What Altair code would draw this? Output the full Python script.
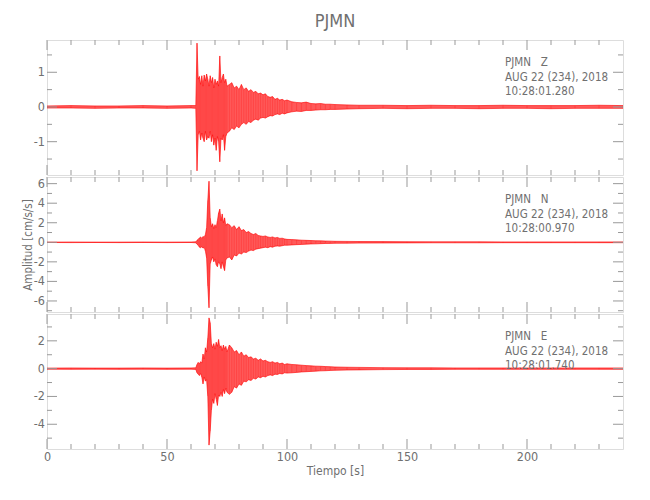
import altair as alt
import pandas as pd

# ---------------- data (envelope of each trace) ----------------
T = [0, 10, 20, 30, 40, 50, 60, 62,
     62.5, 63, 63.5, 64, 64.5, 65, 65.5, 66, 66.5, 67, 67.5, 68, 68.5, 69, 69.5,
     70, 70.5, 71, 71.5, 72, 72.5, 73, 73.5, 74, 74.5, 75,
     76, 77, 78, 79, 80, 81, 82, 83, 84, 85, 86, 87, 88, 89, 90, 91, 92, 93, 94,
     95, 96, 97, 98, 99, 100,
     102, 104, 106, 108, 110, 112, 114, 116, 118, 120,
     125, 130, 140, 150, 160, 170, 180, 190, 200, 210, 220, 230, 240]

Z_HI = [0.03, 0.04, 0.03, 0.03, 0.04, 0.03, 0.04, 0.04,
        1.84, 0.8, 0.88, 0.65, 0.9, 0.6, 0.92, 0.75, 0.95, 0.8, 0.6, 0.9, 0.7, 0.85, 0.55,
        0.8, 0.65, 0.75, 0.6, 1.47, 0.7, 0.85, 0.95, 0.7, 0.8, 0.6,
        0.65, 0.7, 0.55, 0.6, 0.5, 0.65, 0.5, 0.55, 0.45, 0.5, 0.42, 0.45, 0.38, 0.4, 0.35,
        0.38, 0.3, 0.28, 0.3, 0.22, 0.25, 0.2, 0.22, 0.18, 0.2,
        0.15, 0.13, 0.12, 0.14, 0.1, 0.09, 0.1, 0.08, 0.08, 0.07,
        0.06, 0.05, 0.05, 0.04, 0.05, 0.04, 0.04, 0.05, 0.04, 0.04, 0.04, 0.05, 0.04]
Z_LO = [-0.03, -0.03, -0.04, -0.03, -0.03, -0.04, -0.03, -0.04,
        -1.84, -0.8, -0.7, -0.95, -0.75, -0.9, -1.0, -0.7, -0.95, -0.85, -0.9, -0.7, -1.0, -0.8, -1.1,
        -0.9, -1.25, -0.85, -1.0, -1.58, -0.9, -0.95, -0.8, -1.25, -0.85, -0.75,
        -0.7, -0.6, -0.65, -0.55, -0.6, -0.5, -0.45, -0.5, -0.42, -0.45, -0.38, -0.35, -0.38, -0.32, -0.3,
        -0.32, -0.28, -0.25, -0.26, -0.22, -0.2, -0.22, -0.18, -0.2, -0.17,
        -0.14, -0.12, -0.13, -0.1, -0.1, -0.09, -0.08, -0.08, -0.07, -0.07,
        -0.06, -0.05, -0.04, -0.05, -0.04, -0.04, -0.05, -0.04, -0.04, -0.05, -0.04, -0.04, -0.04]

N_HI = [0.02, 0.03, 0.02, 0.02, 0.03, 0.02, 0.03, 0.05,
        0.2, 0.3, 0.45, 0.55, 0.4, 0.6, 0.5, 0.8, 1.5, 4.3, 6.25, 2.5, 1.6, 1.9, 1.4,
        1.8, 1.5, 2.2, 3.0, 3.4, 2.2, 2.9, 2.0, 2.5, 1.7, 1.9,
        1.8, 1.5, 1.7, 1.3, 1.6, 1.2, 1.3, 1.0, 1.1, 0.9, 0.8, 0.9, 0.7, 0.65, 0.6,
        0.65, 0.55, 0.5, 0.55, 0.45, 0.5, 0.4, 0.42, 0.35, 0.3,
        0.28, 0.25, 0.22, 0.2, 0.18, 0.16, 0.15, 0.13, 0.12, 0.1,
        0.09, 0.08, 0.07, 0.06, 0.05, 0.05, 0.05, 0.04, 0.04, 0.04, 0.04, 0.04, 0.04]
N_LO = [-0.02, -0.03, -0.02, -0.03, -0.02, -0.03, -0.02, -0.05,
        -0.2, -0.3, -0.5, -0.55, -0.45, -0.6, -0.5, -0.9, -1.6, -4.5, -6.7, -2.2, -1.8, -1.5, -2.0,
        -1.7, -2.3, -2.5, -2.0, -2.2, -2.7, -2.0, -2.5, -2.9, -1.8, -1.6,
        -1.5, -1.8, -1.3, -1.4, -1.1, -1.2, -1.0, -1.05, -0.9, -0.8, -0.85, -0.7, -0.65, -0.6, -0.55,
        -0.5, -0.55, -0.45, -0.5, -0.4, -0.38, -0.4, -0.35, -0.3, -0.3,
        -0.27, -0.24, -0.22, -0.19, -0.17, -0.16, -0.14, -0.12, -0.11, -0.1,
        -0.09, -0.08, -0.07, -0.06, -0.05, -0.05, -0.05, -0.04, -0.04, -0.04, -0.04, -0.04, -0.04]

E_HI = [0.04, 0.05, 0.04, 0.04, 0.05, 0.04, 0.05, 0.06,
        0.3, 0.45, 0.35, 0.5, 0.4, 1.05, 0.7, 1.5, 1.2, 2.2, 3.65, 3.3, 1.8, 1.5, 1.8,
        1.4, 1.9, 1.6, 2.1, 1.5, 1.65, 1.3, 1.7, 1.4, 1.6, 1.2,
        1.7, 1.5, 1.2, 1.3, 1.0, 1.2, 0.9, 1.0, 0.8, 0.85, 0.7, 0.75, 0.6, 0.7, 0.55,
        0.6, 0.5, 0.45, 0.5, 0.4, 0.45, 0.35, 0.4, 0.3, 0.35,
        0.3, 0.28, 0.25, 0.22, 0.2, 0.18, 0.17, 0.15, 0.14, 0.12,
        0.1, 0.09, 0.07, 0.06, 0.06, 0.05, 0.05, 0.05, 0.05, 0.05, 0.05, 0.05, 0.05]
E_LO = [-0.04, -0.05, -0.04, -0.05, -0.04, -0.05, -0.04, -0.06,
        -0.3, -0.4, -0.5, -0.35, -0.6, -1.1, -0.6, -0.9, -0.8, -2.0, -5.5, -4.5, -3.0, -2.2, -2.5,
        -1.8, -2.2, -2.65, -1.9, -2.0, -1.7, -2.0, -1.5, -1.8, -1.4, -1.7,
        -1.85, -1.7, -1.3, -1.4, -1.1, -1.2, -0.9, -0.95, -0.8, -0.85, -0.7, -0.75, -0.6, -0.65, -0.55,
        -0.6, -0.5, -0.45, -0.5, -0.4, -0.42, -0.35, -0.38, -0.3, -0.32,
        -0.3, -0.27, -0.24, -0.22, -0.2, -0.18, -0.16, -0.15, -0.13, -0.12,
        -0.1, -0.09, -0.07, -0.06, -0.06, -0.05, -0.05, -0.05, -0.05, -0.05, -0.05, -0.05, -0.05]

X_MAJOR = [0, 50, 100, 150, 200]
X_MINOR = [10, 20, 30, 40, 60, 70, 80, 90, 110, 120, 130, 140, 160, 170, 180, 190, 210, 220, 230]

Z_DOMAIN = [-1.96, 1.93]
Z_MAJOR = [-1, 0, 1]
Z_MINOR = [-1.5, -0.5, 0.5, 1.5]
N_DOMAIN = [-7.13, 6.68]
N_MAJOR = [-6, -4, -2, 0, 2, 4, 6]
N_MINOR = [-7, -5, -3, -1, 1, 3, 5]
E_DOMAIN = [-5.78, 3.93]
E_MAJOR = [-4, -2, 0, 2]
E_MINOR = [-5, -3, -1, 1, 3]

TITLE = "PJMN"
X_TITLE = "Tiempo [s]"
Y_TITLE = "Amplitud [cm/s/s]"
ANNOT_Z = "PJMN\u00a0\u00a0\u00a0Z\nAUG 22 (234), 2018\n10:28:01.280"
ANNOT_N = "PJMN\u00a0\u00a0\u00a0N\nAUG 22 (234), 2018\n10:28:00.970"
ANNOT_E = "PJMN\u00a0\u00a0\u00a0E\nAUG 22 (234), 2018\n10:28:01.740"

for arr in (Z_HI, Z_LO, N_HI, N_LO, E_HI, E_LO):
    assert len(arr) == len(T), len(arr)

# ---------------- style ----------------
FONT = "DejaVu Sans Condensed, Liberation Sans Narrow, sans-serif"
TXT = "#707070"
FRAME = "#999999"
RED = "#ff0000"
W, H = 576, 135
LABEL_EXPR = "datum.value < 0 ? '-' + abs(datum.value) : '' + datum.value"

XSCALE = alt.Scale(domain=[0, 240], nice=False, zero=False)


def panel(hi, lo, domain, ymaj, ymin, annot, bottom=False, ytitle=None):
    ysc = alt.Scale(domain=domain, nice=False, zero=False)
    df = pd.DataFrame({"t": T, "hi": hi, "lo": lo})
    if bottom:
        xaxis = alt.Axis(values=X_MAJOR, ticks=False, domain=False, grid=False,
                         labelPadding=1, labelFontSize=12.5, labelFont=FONT, labelColor=TXT,
                         labelFlush=False, labelOverlap=False, labelExpr=LABEL_EXPR,
                         title=X_TITLE, titleFontSize=12, titleFont=FONT, titleColor=TXT,
                         titleFontWeight="normal", titlePadding=3)
    else:
        xaxis = alt.Axis(values=X_MAJOR, ticks=False, domain=False, grid=False,
                         labels=False, title=None)
    yaxis = alt.Axis(values=ymaj, ticks=False, domain=False, grid=False, labels=False,
                     title=ytitle if ytitle else None, titleFontSize=11.5, titleFont=FONT,
                     titleColor=TXT, titleFontWeight="normal", titlePadding=14)
    base = alt.Chart(df)
    area = base.mark_area(color=RED, opacity=0.65, clip=True).encode(
        x=alt.X("t:Q", scale=XSCALE, axis=xaxis),
        y=alt.Y("hi:Q", scale=ysc, axis=yaxis),
        y2="lo:Q")
    rules = base.mark_rule(color=RED, strokeWidth=0.8, opacity=0.3, clip=True).encode(
        x=alt.X("t:Q"), y=alt.Y("hi:Q"), y2="lo:Q")
    edge_hi = base.mark_line(color=RED, strokeWidth=0.6, clip=True).encode(
        x=alt.X("t:Q"), y=alt.Y("hi:Q"))
    edge_lo = base.mark_line(color=RED, strokeWidth=0.6, clip=True).encode(
        x=alt.X("t:Q"), y=alt.Y("lo:Q"))

    layers = [area, rules, edge_hi, edge_lo]

    def xt(vals, length):
        d = alt.Chart(pd.DataFrame({"t": vals}))
        return [
            d.mark_rule(color=FRAME, strokeWidth=1).encode(
                x=alt.X("t:Q"), y=alt.value(0), y2=alt.value(length)),
            d.mark_rule(color=FRAME, strokeWidth=1).encode(
                x=alt.X("t:Q"), y=alt.value(H), y2=alt.value(H - length)),
        ]

    def yt(vals, length):
        d = alt.Chart(pd.DataFrame({"hi": vals}))
        return [
            d.mark_rule(color=FRAME, strokeWidth=1).encode(
                y=alt.Y("hi:Q"), x=alt.value(0), x2=alt.value(length)),
            d.mark_rule(color=FRAME, strokeWidth=1).encode(
                y=alt.Y("hi:Q"), x=alt.value(W), x2=alt.value(W - length)),
        ]

    layers += xt(X_MAJOR, 10) + xt(X_MINOR, 5) + yt(ymaj, 10) + yt(ymin, 5)

    # y tick labels drawn through the y scale
    labs = alt.Chart(pd.DataFrame({"hi": ymaj, "lab": [str(v) for v in ymaj]})).mark_text(
        align="right", baseline="middle", font=FONT, fontSize=12.5, color=TXT).encode(
        y=alt.Y("hi:Q"), text="lab:N", x=alt.value(-2))
    layers.append(labs)

    txt = alt.Chart(pd.DataFrame({"a": [annot]})).mark_text(
        align="left", baseline="alphabetic", font=FONT, fontSize=11.5, color=TXT,
        lineBreak="\n", lineHeight=14.7).encode(
        text="a:N", x=alt.value(458), y=alt.value(26))
    layers.append(txt)
    return alt.layer(*layers).properties(width=W, height=H)


pz = panel(Z_HI, Z_LO, Z_DOMAIN, Z_MAJOR, Z_MINOR, ANNOT_Z)
pn = panel(N_HI, N_LO, N_DOMAIN, N_MAJOR, N_MINOR, ANNOT_N, ytitle=Y_TITLE)
pe = panel(E_HI, E_LO, E_DOMAIN, E_MAJOR, E_MINOR, ANNOT_E, bottom=True)

chart = alt.vconcat(pz, pn, pe, spacing=0).properties(
    title=alt.TitleParams(TITLE, fontSize=18, font=FONT, color=TXT, fontWeight="normal",
                          anchor="middle", frame="group", offset=8),
    padding={"left": 13, "top": 5, "right": 5, "bottom": 5},
).configure_view(stroke=FRAME, strokeWidth=1).configure_axis(
    labelOverlap=False, labelBound=False
).configure(background="white")

chart.save("out.html", embed_options={"renderer": "svg", "actions": False})
